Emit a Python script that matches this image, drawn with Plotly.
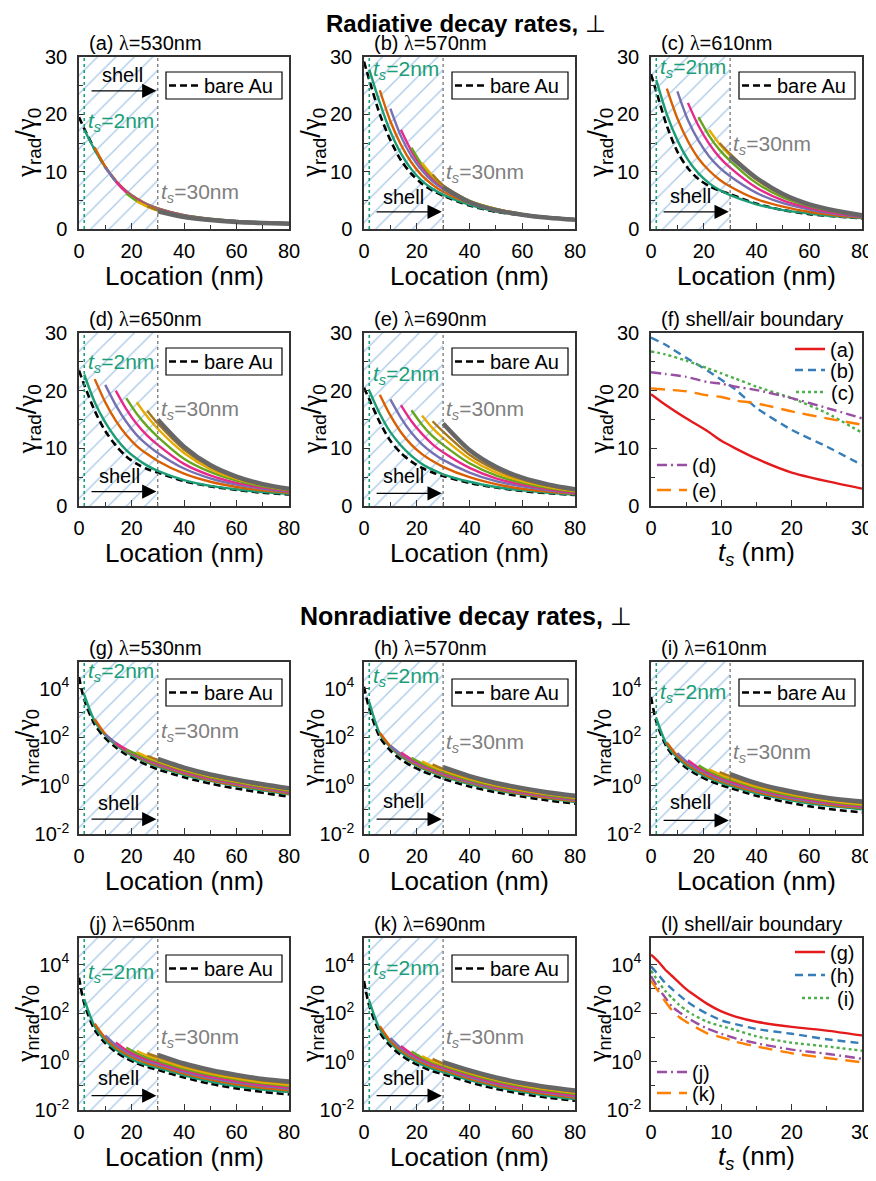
import plotly.graph_objects as go

# ---------------- data ----------------
TS = [2, 6, 10, 14, 18, 22, 26, 30]
X_GRID = [2, 6, 10, 14, 18, 22, 26, 30, 40, 50, 60, 70, 80]
X_BARE = [0, 2, 6, 10, 14, 18, 22, 26, 30, 40, 50, 60, 70, 80]
TS_COLORS = ['#1b9e77', '#d95f02', '#7570b3', '#e7298a', '#66a61e', '#e6ab02', '#a6761d', '#666666']

# radiative, curves for ts = 2..30 (start at x = ts)
RAD_530 = [
    [17.3, 13.8, 10.8, 8.4, 6.6, 5.3, 4.3, 3.6, 2.4, 1.8, 1.4, 1.2, 1.05],
    [14.2, 10.9, 8.4, 6.6, 5.3, 4.3, 3.6, 2.4, 1.75, 1.38, 1.16, 1.02],
    [10.8, 8.3, 6.5, 5.2, 4.2, 3.5, 2.35, 1.72, 1.35, 1.14, 1.0],
    [8.3, 6.4, 5.1, 4.1, 3.4, 2.3, 1.68, 1.32, 1.12, 0.98],
    [6.2, 4.9, 4.0, 3.3, 2.25, 1.65, 1.3, 1.1, 0.96],
    [4.8, 3.9, 3.2, 2.2, 1.62, 1.28, 1.08, 0.94],
    [4.0, 3.3, 2.15, 1.58, 1.25, 1.06, 0.92],
    [3.1, 2.1, 1.55, 1.23, 1.04, 0.9],
]
RAD_530_BARE = [19.5, 17.5, 13.9, 10.8, 8.4, 6.5, 5.2, 4.2, 3.5, 2.3, 1.7, 1.3, 1.1, 1.0]

RAD_570 = [
    [27.8, 22, 17, 13.2, 10.4, 8.4, 7.0, 6.0, 4.2, 3.1, 2.4, 2.0, 1.7],
    [24.2, 18.8, 14.7, 11.6, 9.3, 7.7, 6.5, 4.5, 3.3, 2.5, 2.0, 1.7],
    [21, 16.2, 12.7, 10.2, 8.3, 7.0, 4.7, 3.4, 2.6, 2.05, 1.7],
    [17.3, 13.6, 10.8, 8.8, 7.3, 4.8, 3.5, 2.6, 2.05, 1.7],
    [14.2, 11.2, 9.1, 7.5, 4.9, 3.5, 2.6, 2.05, 1.7],
    [11.5, 9.3, 7.6, 4.9, 3.5, 2.6, 2.0, 1.65],
    [9.5, 7.6, 4.8, 3.4, 2.5, 2.0, 1.6],
    [7.3, 4.7, 3.3, 2.5, 1.95, 1.6],
]
RAD_570_BARE = [29.2, 26, 20, 15.5, 12, 9.6, 7.9, 6.7, 5.8, 4.1, 3.0, 2.4, 2.0, 1.6]

RAD_610 = [
    [26, 20, 15.5, 12.1, 9.7, 8.0, 6.8, 5.9, 4.3, 3.3, 2.7, 2.2, 1.9],
    [24.5, 19.3, 15.3, 12.3, 10.2, 8.6, 7.4, 5.2, 3.9, 3.0, 2.4, 2.0],
    [24, 19, 15.4, 12.7, 10.7, 9.2, 6.3, 4.5, 3.4, 2.6, 2.1],
    [22, 18, 14.9, 12.5, 10.7, 7.2, 5.0, 3.7, 2.8, 2.2],
    [19.5, 16.3, 13.8, 11.9, 8.0, 5.5, 4.0, 3.0, 2.3],
    [17.3, 14.8, 12.8, 8.6, 5.9, 4.2, 3.1, 2.4],
    [15, 13.1, 8.9, 6.1, 4.3, 3.2, 2.4],
    [12.7, 8.9, 6.1, 4.3, 3.2, 2.4],
]
RAD_610_BARE = [27, 24, 18, 13.5, 10.6, 8.7, 7.5, 6.7, 6.1, 4.4, 3.3, 2.6, 2.2, 1.85]

RAD_650 = [
    [22.8, 18, 14.5, 11.8, 9.7, 8.2, 7.0, 6.1, 4.5, 3.5, 2.9, 2.4, 2.1],
    [22, 18, 14.8, 12.3, 10.4, 9.0, 7.8, 5.6, 4.2, 3.3, 2.7, 2.3],
    [21, 17.5, 14.6, 12.3, 10.6, 9.2, 6.5, 4.8, 3.7, 3.0, 2.5],
    [20, 16.8, 14.2, 12.2, 10.6, 7.3, 5.3, 4.0, 3.2, 2.6],
    [18.7, 16, 13.8, 12, 8.2, 5.9, 4.4, 3.4, 2.7],
    [18, 15.5, 13.4, 9.2, 6.4, 4.7, 3.6, 2.8],
    [16.5, 14.3, 9.8, 6.8, 4.9, 3.7, 2.9],
    [15, 10.3, 7.1, 5.1, 3.8, 3.0],
]
RAD_650_BARE = [23.5, 21, 16.5, 13, 10.5, 8.6, 7.3, 6.4, 5.8, 4.3, 3.4, 2.8, 2.3, 2.0]

RAD_690 = [
    [20.0, 16.0, 12.8, 10.5, 8.7, 7.3, 6.3, 5.5, 4.2, 3.3, 2.7, 2.3, 2.0],
    [19.3, 15.7, 12.8, 10.6, 9.0, 7.8, 6.8, 5.0, 3.8, 3.0, 2.5, 2.1],
    [18.5, 15.3, 12.7, 10.7, 9.2, 8.0, 5.8, 4.3, 3.4, 2.7, 2.2],
    [17.5, 14.7, 12.5, 10.7, 9.3, 6.6, 4.8, 3.7, 2.9, 2.3],
    [16.6, 14.1, 12.1, 10.6, 7.4, 5.3, 4.0, 3.1, 2.5],
    [15.7, 13.5, 11.8, 8.2, 5.8, 4.3, 3.3, 2.6],
    [14.7, 12.9, 8.9, 6.3, 4.6, 3.5, 2.7],
    [14.3, 9.7, 6.8, 4.9, 3.7, 2.9],
]
RAD_690_BARE = [20.5, 18.5, 14.5, 11.3, 9.2, 7.7, 6.6, 5.8, 5.2, 4.0, 3.2, 2.6, 2.2, 1.9]

# nonradiative
NRAD_530 = [
    [5600, 450, 120, 48, 24, 14, 9, 6, 2.8, 1.55, 0.95, 0.63, 0.43],
    [550, 135, 54, 27, 16, 10, 6.8, 3.1, 1.7, 1.05, 0.7, 0.47],
    [130, 58, 29, 17, 11, 7.5, 3.4, 1.85, 1.15, 0.76, 0.51],
    [55, 31, 18.5, 12, 8.3, 3.7, 2.0, 1.25, 0.82, 0.55],
    [30, 20, 13.2, 9.2, 4.1, 2.2, 1.35, 0.88, 0.6],
    [24, 15, 10.3, 4.5, 2.4, 1.48, 0.96, 0.65],
    [17, 11.5, 5.0, 2.65, 1.6, 1.04, 0.7],
    [12.5, 5.5, 2.9, 1.75, 1.13, 0.77],
]
NRAD_530_BARE = [30000, 3500, 330, 90, 38, 19, 11, 7, 4.7, 2.2, 1.2, 0.75, 0.5, 0.35]

NRAD_570 = [
    [2800, 140, 38, 16, 8.5, 5.2, 3.4, 2.4, 1.15, 0.65, 0.42, 0.29, 0.21],
    [150, 42, 18, 9.5, 5.8, 3.8, 2.7, 1.28, 0.72, 0.46, 0.31, 0.23],
    [44, 20, 10.5, 6.4, 4.2, 3.0, 1.4, 0.79, 0.5, 0.34, 0.25],
    [23, 12, 7.2, 4.7, 3.3, 1.55, 0.86, 0.54, 0.37, 0.27],
    [14, 8.2, 5.3, 3.7, 1.7, 0.94, 0.59, 0.4, 0.29],
    [10, 6.2, 4.2, 1.9, 1.03, 0.64, 0.43, 0.31],
    [7.5, 4.9, 2.15, 1.15, 0.7, 0.47, 0.34],
    [5.7, 2.45, 1.28, 0.78, 0.52, 0.38],
]
NRAD_570_BARE = [12000, 1500, 100, 28, 12, 6.5, 4.0, 2.7, 1.9, 0.92, 0.53, 0.35, 0.24, 0.18]

NRAD_610 = [
    [600, 48, 14, 6, 3.3, 2.0, 1.35, 0.98, 0.48, 0.28, 0.18, 0.135, 0.105],
    [60, 17, 7.2, 3.9, 2.35, 1.58, 1.13, 0.55, 0.32, 0.21, 0.15, 0.12],
    [22, 8.8, 4.6, 2.8, 1.85, 1.3, 0.63, 0.36, 0.23, 0.17, 0.13],
    [11, 5.5, 3.3, 2.15, 1.5, 0.71, 0.4, 0.26, 0.18, 0.14],
    [6.8, 3.9, 2.5, 1.75, 0.8, 0.45, 0.29, 0.2, 0.155],
    [4.7, 2.95, 2.05, 0.92, 0.51, 0.32, 0.22, 0.17],
    [3.6, 2.45, 1.07, 0.58, 0.36, 0.25, 0.19],
    [3.0, 1.25, 0.67, 0.41, 0.28, 0.22],
]
NRAD_610_BARE = [4500, 450, 38, 11, 4.8, 2.6, 1.6, 1.1, 0.8, 0.38, 0.22, 0.14, 0.1, 0.078]

NRAD_650 = [
    [380, 28, 7.5, 3.1, 1.65, 1.0, 0.72, 0.55, 0.27, 0.15, 0.095, 0.07, 0.055],
    [37, 9.5, 3.9, 2.05, 1.25, 0.87, 0.65, 0.32, 0.18, 0.115, 0.083, 0.065],
    [12, 4.8, 2.5, 1.5, 1.03, 0.77, 0.37, 0.21, 0.135, 0.097, 0.075],
    [6.2, 3.0, 1.8, 1.22, 0.9, 0.43, 0.24, 0.155, 0.11, 0.085],
    [3.8, 2.2, 1.45, 1.06, 0.5, 0.28, 0.18, 0.125, 0.097],
    [2.8, 1.78, 1.27, 0.59, 0.32, 0.205, 0.14, 0.11],
    [2.2, 1.55, 0.7, 0.38, 0.24, 0.165, 0.128],
    [1.9, 0.83, 0.45, 0.28, 0.19, 0.15],
]
NRAD_650_BARE = [2900, 250, 20, 5.8, 2.5, 1.35, 0.85, 0.6, 0.45, 0.22, 0.12, 0.078, 0.056, 0.044]

NRAD_690 = [
    [320, 22, 5.8, 2.4, 1.25, 0.75, 0.5, 0.37, 0.17, 0.09, 0.056, 0.038, 0.028],
    [29, 7.2, 2.9, 1.5, 0.9, 0.6, 0.44, 0.2, 0.105, 0.065, 0.044, 0.032],
    [9.2, 3.6, 1.8, 1.07, 0.71, 0.52, 0.23, 0.12, 0.074, 0.05, 0.036],
    [4.4, 2.1, 1.22, 0.8, 0.57, 0.26, 0.135, 0.082, 0.055, 0.04],
    [2.6, 1.45, 0.93, 0.66, 0.3, 0.155, 0.094, 0.063, 0.046],
    [1.7, 1.05, 0.75, 0.34, 0.175, 0.105, 0.07, 0.051],
    [1.3, 0.85, 0.38, 0.195, 0.117, 0.078, 0.057],
    [0.95, 0.43, 0.22, 0.13, 0.087, 0.064],
]
NRAD_690_BARE = [2100, 200, 16, 4.4, 1.85, 0.98, 0.6, 0.4, 0.3, 0.14, 0.075, 0.046, 0.032, 0.024]

# shell/air boundary panels
F_TS = [0, 2, 5, 8, 10, 12, 15, 20, 25, 30]
F_A = [19.4, 17.6, 15.2, 13.0, 11.3, 10.0, 8.2, 5.8, 4.3, 3.0]
F_B = [29.2, 28.0, 25.7, 23.5, 21.9, 20.2, 17.0, 13.2, 10.3, 7.1]
F_C = [26.8, 26.3, 25.2, 23.9, 23.0, 22.1, 20.7, 18.7, 16.1, 12.7]
F_D = [23.2, 22.9, 22.4, 21.5, 21.2, 20.7, 20.1, 18.7, 17.0, 15.2]
F_E = [20.4, 20.2, 19.9, 19.2, 18.9, 18.3, 17.8, 16.4, 15.2, 14.1]

L_TS = [0, 1, 2, 3, 4, 5, 6, 8, 10, 12, 15, 20, 25, 30]
L_G = [25700, 13800, 6300, 3400, 1800, 980, 600, 240, 117, 72, 44, 27, 19, 12]
L_H = [8500, 4000, 1800, 980, 550, 320, 200, 93, 50, 35, 22, 14, 8.3, 5.7]
L_I = [5700, 2100, 830, 420, 220, 130, 85, 44, 29, 20, 11, 6, 4.2, 2.8]
L_J = [3400, 1100, 450, 185, 110, 69, 46, 23, 14, 9.1, 5.7, 3.1, 2.1, 1.3]
L_K = [2200, 830, 310, 130, 69, 44, 30, 14.5, 10, 6.6, 4.2, 2.2, 1.4, 0.93]

# ---------------- layout helpers ----------------
FONT = "Arial, Liberation Sans, sans-serif"
GREEK = "Liberation Serif, Times New Roman, serif"
W, H = 876, 1181          # page size in which the positions below are measured
OFF = 8                   # page body margin that the figure is placed inside
FW, FH = W - OFF, H - OFF  # figure size
COL_X = [(79, 289), (364, 575), (651, 862)]
ROW_Y = [(57, 229), (333, 506), (662, 834), (938, 1110)]
LOG_RANGE = [-2, 5.1]


def PX(p):
    return (p - OFF) / FW


def PY(p):
    return 1 - (p - OFF) / FH


fig = go.Figure()
layout = {}
annotations = []
shapes = []


def names(i):
    s = '' if i == 1 else str(i)
    return 'x' + s, 'y' + s, 'xaxis' + s, 'yaxis' + s


def legend_name(n):
    return 'legend' if n == 1 else 'legend%d' % n


def setup_axes(i, row, col, log, xmax, xt, xminor):
    xr, yr, xa, ya = names(i)
    x0, x1 = COL_X[col]
    y0, y1 = ROW_Y[row]
    common = dict(showline=True, linecolor='#333', linewidth=1.5, mirror=True, automargin=False,
                  showgrid=False, zeroline=False, ticks='inside', ticklen=6,
                  tickwidth=1.2, tickcolor='#333',
                  tickfont=dict(size=20, family=FONT, color='black'))
    layout[xa] = dict(domain=[PX(x0), PX(x1)], anchor=yr, range=[0, xmax], tickvals=xt,
                      minor=dict(tickvals=xminor, ticks='inside', ticklen=4, tickcolor='#333'),
                      ticklabelstandoff=3, **common)
    if log:
        layout[ya] = dict(domain=[PY(y1), PY(y0)], anchor=xr, type='log', range=LOG_RANGE,
                          tickvals=[0.01, 1, 100, 10000],
                          ticktext=['10<sup>-2</sup>', '10<sup>0</sup>', '10<sup>2</sup>', '10<sup>4</sup>'],
                          minor=dict(tickvals=[0.1, 10, 1000], ticks='inside', ticklen=4, tickcolor='#333'),
                          ticklabelstandoff=4, **common)
    else:
        layout[ya] = dict(domain=[PY(y1), PY(y0)], anchor=xr, range=[0, 30],
                          tickvals=[0, 10, 20, 30],
                          minor=dict(tickvals=[5, 15, 25], ticks='inside', ticklen=4, tickcolor='#333'),
                          ticklabelstandoff=6, **common)
    return xr, yr, x0, x1, y0, y1


def titles(x0, x1, y0, y1, title, ytitle, xtitle, log):
    annotations.append(dict(text=title, x=PX(x0 + 8), y=PY(y0 - 14), xref='paper', yref='paper',
                            xanchor='left', yanchor='middle', showarrow=False,
                            font=dict(size=20, family=FONT, color='black')))
    annotations.append(dict(text=ytitle, textangle=-90, x=PX(x0 - (53 if log else 51)),
                            y=PY((y0 + y1) / 2), xref='paper', yref='paper',
                            xanchor='center', yanchor='middle', showarrow=False,
                            font=dict(size=26 if log else 27, family=FONT, color='black')))
    annotations.append(dict(text=xtitle, x=PX((x0 + x1) / 2), y=PY(y1 + 47),
                            xref='paper', yref='paper', xanchor='center', yanchor='middle',
                            showarrow=False, font=dict(size=26, family=FONT, color='black')))


G = '<span style="font-family:%s">γ</span>' % GREEK
YT_RAD = G + '<sub>rad</sub>/' + G + '<sub>0</sub>'
YT_NRAD = G + '<sub>nrad</sub>/' + G + '<sub>0</sub>'
XT_TS = '<i>t<sub>s</sub></i> (nm)'
LAM = '<span style="font-family:%s">λ</span>' % GREEK


def curve_panel(i, row, col, letter, wl, curves, bare, log, pos, leg):
    xr, yr, x0, x1, y0, y1 = setup_axes(i, row, col, log, 80, [0, 20, 40, 60, 80], [10, 30, 50, 70])
    titles(x0, x1, y0, y1, '(%s) %s=%dnm' % (letter, LAM, wl), YT_NRAD if log else YT_RAD, 'Location (nm)', log)
    ylo, yhi = (0.01, 10 ** LOG_RANGE[1]) if log else (0, 30)
    fig.add_trace(go.Scatter(x=[0, 30, 30, 0, 0], y=[ylo, ylo, yhi, yhi, ylo], fill='toself', mode='lines',
                             line=dict(width=0), fillcolor='rgba(0,0,0,0)',
                             fillpattern=dict(shape='/', fgcolor='#a7c8e8', bgcolor='rgba(0,0,0,0)',
                                              size=13, solidity=0.1, fillmode='replace'),
                             xaxis=xr, yaxis=yr, showlegend=False, hoverinfo='skip'))
    fig.add_trace(go.Scatter(x=X_BARE, y=bare, mode='lines', name='bare Au',
                             line=dict(color='black', width=2.6, dash='7px,4px', shape='spline', smoothing=0.8),
                             xaxis=xr, yaxis=yr, showlegend=True, legend=legend_name(leg)))
    for k in range(len(TS)):
        fig.add_trace(go.Scatter(x=X_GRID[k:], y=curves[k], mode='lines',
                                 line=dict(color=TS_COLORS[k], width=4.5 if k == 7 else 2.4,
                                           shape='spline', smoothing=0.8),
                                 name='t_s=%dnm' % TS[k], xaxis=xr, yaxis=yr, showlegend=False))
    # legend box (frame drawn as a shape, legend itself borderless)
    top_off = 17 if log else 15
    bx1, bx0 = x1 - 7, x1 - 123
    by0, by1 = y0 + top_off, y0 + top_off + 27
    shapes.append(dict(type='rect', xref='paper', yref='paper', x0=PX(bx0), x1=PX(bx1),
                       y0=PY(by1), y1=PY(by0), line=dict(color='black', width=1.2),
                       fillcolor='white', layer='above'))
    layout[legend_name(leg)] = dict(x=PX(bx0 - 2), y=PY((by0 + by1) / 2), xanchor='left',
                                    yanchor='middle', borderwidth=0, bgcolor='rgba(0,0,0,0)',
                                    font=dict(size=20, family=FONT, color='black'), itemwidth=30)
    # dotted boundaries
    shapes.append(dict(type='line', xref=xr, yref=yr + ' domain', x0=2, x1=2, y0=0, y1=1,
                       line=dict(color='#1b9e77', width=1.6, dash='dot')))
    shapes.append(dict(type='line', xref=xr, yref=yr + ' domain', x0=30, x1=30, y0=0, y1=1,
                       line=dict(color='#777777', width=1.3, dash='dot')))
    ts2_y, ts30_y, shell_x, shell_y, arrow_y = pos
    annotations.append(dict(text='<i>t</i><sub><i>s</i></sub>=2nm', x=2.6, y=ts2_y, xref=xr, yref=yr,
                            xanchor='left', yanchor='middle', showarrow=False,
                            font=dict(size=21, family=FONT, color='#1b9e77')))
    annotations.append(dict(text='<i>t</i><sub><i>s</i></sub>=30nm', x=30.3, y=ts30_y, xref=xr, yref=yr,
                            xanchor='left', yanchor='middle', showarrow=False,
                            font=dict(size=21, family=FONT, color='#808080')))
    annotations.append(dict(text='shell', x=shell_x, y=shell_y, xref=xr, yref=yr,
                            xanchor='center', yanchor='middle', showarrow=False,
                            font=dict(size=20, family=FONT, color='black')))
    annotations.append(dict(text='', x=29.5, y=arrow_y, ax=4.2, ay=arrow_y, xref=xr, yref=yr,
                            axref=xr, ayref=yr, showarrow=True, arrowhead=2, arrowsize=2.2,
                            arrowwidth=1.3, arrowcolor='black', standoff=0))


# positions (ts=2 label y, ts=30 label y, shell text x, shell text y, arrow y)
curve_panel(1, 0, 0, 'a', 530, RAD_530, RAD_530_BARE, False, (18.7, 6.3, 16.5, 26.9, 24.1), 1)
curve_panel(2, 0, 1, 'b', 570, RAD_570, RAD_570_BARE, False, (27.7, 9.7, 15, 5.6, 3.0), 2)
curve_panel(3, 0, 2, 'c', 610, RAD_610, RAD_610_BARE, False, (28.0, 14.6, 15, 5.7, 3.0), 3)
curve_panel(4, 1, 0, 'd', 650, RAD_650, RAD_650_BARE, False, (24.8, 16.7, 15.5, 5.2, 2.5), 4)
curve_panel(5, 1, 1, 'e', 690, RAD_690, RAD_690_BARE, False, (22.7, 16.6, 15, 5.2, 2.2), 5)
curve_panel(7, 2, 0, 'g', 530, NRAD_530, NRAD_530_BARE, True, (4.69, 2.21, 15, -0.7, -1.39), 6)
curve_panel(8, 2, 1, 'h', 570, NRAD_570, NRAD_570_BARE, True, (4.47, 1.77, 15, -0.65, -1.39), 7)
curve_panel(9, 2, 2, 'i', 610, NRAD_610, NRAD_610_BARE, True, (3.8, 1.33, 15, -0.68, -1.44), 8)
curve_panel(10, 3, 0, 'j', 650, NRAD_650, NRAD_650_BARE, True, (3.66, 0.96, 15, -0.68, -1.41), 9)
curve_panel(11, 3, 1, 'k', 690, NRAD_690, NRAD_690_BARE, True, (3.8, 0.96, 15, -0.68, -1.41), 10)

# boundary panels
SET1 = ['#e41a1c', '#377eb8', '#4daf4a', '#984ea3', '#ff7f00']
DASHES = ['solid', '8px,5px', '3px,3px', '10px,4px,2px,4px', '14px,8px']


def boundary_panel(i, row, col, letter, log, xs, series, labels, ycenters, leg_start):
    xr, yr, x0, x1, y0, y1 = setup_axes(i, row, col, log, 30, [0, 10, 20, 30], [5, 15, 25])
    titles(x0, x1, y0, y1, '(%s) shell/air boundary' % letter, YT_NRAD if log else YT_RAD, XT_TS, log)
    for k, (ys, lab) in enumerate(zip(series, labels)):
        ln = legend_name(leg_start + k)
        fig.add_trace(go.Scatter(x=xs, y=ys, mode='lines', name='(%s)' % lab,
                                 line=dict(color=SET1[k], width=2.4, dash=DASHES[k],
                                           shape='spline', smoothing=0.6),
                                 xaxis=xr, yaxis=yr, showlegend=True, legend=ln))
        right = k < 3
        layout[ln] = dict(x=PX(860 if right else 652), y=PY(ycenters[k]),
                          xanchor='right' if right else 'left', yanchor='middle',
                          bgcolor='rgba(0,0,0,0)', borderwidth=0,
                          font=dict(size=20, family=FONT, color='black'), itemwidth=30)


boundary_panel(6, 1, 2, 'f', False, F_TS, [F_A, F_B, F_C, F_D, F_E], ['a', 'b', 'c', 'd', 'e'],
               [349, 370, 392, 465, 490], 11)
boundary_panel(12, 3, 2, 'l', True, L_TS, [L_G, L_H, L_I, L_J, L_K], ['g', 'h', 'i', 'j', 'k'],
               [952, 975, 998, 1072, 1093], 16)

# group titles
annotations.append(dict(text='<b>Radiative decay rates,</b> ⊥', x=PX(466), y=PY(24), xref='paper',
                        yref='paper', xanchor='center', yanchor='middle', showarrow=False,
                        font=dict(size=24, family=FONT, color='black')))
annotations.append(dict(text='<b>Nonradiative decay rates,</b> ⊥', x=PX(466), y=PY(616), xref='paper',
                        yref='paper', xanchor='center', yanchor='middle', showarrow=False,
                        font=dict(size=25, family=FONT, color='black')))

fig.update_layout(width=FW, height=FH, margin=dict(l=0, r=0, t=0, b=0, autoexpand=False),
                  paper_bgcolor='white', plot_bgcolor='white',
                  font=dict(family=FONT, color='black'),
                  annotations=annotations, shapes=shapes, **layout)

fig.write_html('out.html')
